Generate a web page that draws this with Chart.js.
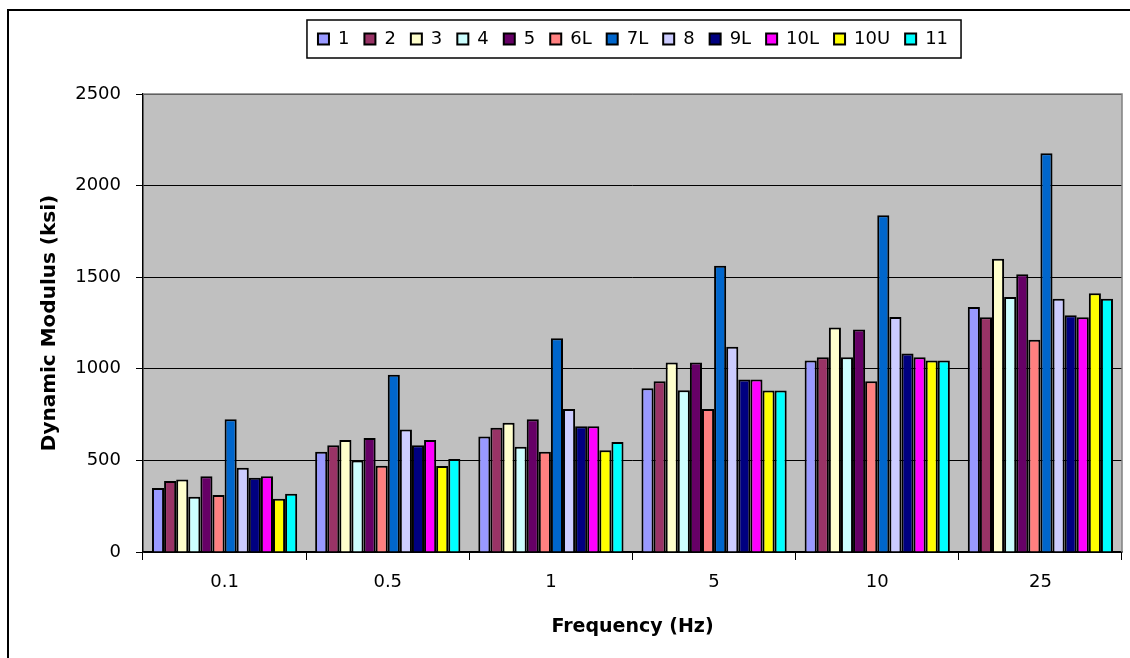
<!DOCTYPE html>
<html>
<head>
<meta charset="utf-8">
<title>Dynamic Modulus</title>
<script src="https://cdn.jsdelivr.net/npm/chart.js@4.4.1/dist/chart.umd.min.js"></script>
<style>
  body { margin: 0; background: #fff; }
  #wrap { width: 1130px; height: 658px; }
</style>
</head>
<body>
<div id="wrap"><canvas id="modChart" width="1130" height="658"></canvas></div>
<script>
// ===============================
// DATA
// ===============================
const frequencies = ["0.1", "0.5", "1", "5", "10", "25"];
const yTicks = [0, 500, 1000, 1500, 2000, 2500];

const mix1   = [349, 547, 631, 894, 1045, 1338];
const mix2   = [387, 583, 678, 932, 1063, 1281];
const mix3   = [396, 611, 705, 1034, 1225, 1601];
const mix4   = [302, 500, 574, 883, 1063, 1392];
const mix5   = [414, 622, 725, 1034, 1214, 1516];
const mix6L  = [311, 471, 547, 780, 932, 1158];
const mix7L  = [725, 968, 1167, 1563, 1838, 2176];
const mix8   = [460, 669, 780, 1120, 1283, 1383];
const mix9L  = [405, 583, 687, 942, 1083, 1292];
const mix10L = [414, 611, 687, 942, 1063, 1281];
const mix10U = [291, 469, 556, 882, 1045, 1412];
const mix11  = [318, 507, 601, 882, 1045, 1383];

const seriesNames = ["1", "2", "3", "4", "5", "6L", "7L", "8", "9L", "10L", "10U", "11"];
const seriesData = [mix1, mix2, mix3, mix4, mix5, mix6L, mix7L, mix8, mix9L, mix10L, mix10U, mix11];
const seriesColors = ["#9999FF", "#993366", "#FFFFCC", "#CCFFFF", "#660066", "#FF8080",
                      "#0066CC", "#CCCCFF", "#000080", "#FF00FF", "#FFFF00", "#00FFFF"];

const FONT = "'DejaVu Sans', 'Liberation Sans', Arial, sans-serif";

// ===============================
// PLUGINS (frame, plot background, legend box)
// ===============================
const framePlugin = {
  id: "frame",
  beforeInit(chart) {
    // make the legend taller so the plot starts lower
    const legend = chart.legend;
    const origFit = legend.fit;
    legend.fit = function () {
      origFit.call(this);
      this.height = 79;
    };
  },
  afterLayout(chart) {
    // centre legend a bit right of canvas centre, like the original
    const legend = chart.legend;
    const shift = 633 - (legend.left + legend.right) / 2;
    legend.left += shift;
    legend.right += shift;
  },
  beforeDraw(chart) {
    const ctx = chart.ctx;
    const a = chart.chartArea;
    ctx.save();
    ctx.fillStyle = "#fff";
    ctx.fillRect(0, 0, chart.width, chart.height);
    ctx.strokeStyle = "#000";
    ctx.lineWidth = 2;
    ctx.beginPath();
    ctx.moveTo(8, chart.height);
    ctx.lineTo(8, 10);
    ctx.lineTo(chart.width, 10);
    ctx.stroke();
    ctx.fillStyle = "#C0C0C0";
    ctx.fillRect(a.left, a.top, a.right - a.left, a.bottom - a.top);
    ctx.restore();
  },
  beforeDatasetsDraw(chart) {
    const ctx = chart.ctx;
    const a = chart.chartArea;
    ctx.save();
    ctx.strokeStyle = "#808080";
    ctx.lineWidth = 1.5;
    ctx.beginPath();
    ctx.moveTo(a.left, a.top);
    ctx.lineTo(a.right, a.top);
    ctx.lineTo(a.right, a.bottom);
    ctx.stroke();
    ctx.restore();
  },
  afterDraw(chart) {
    const boxes = chart.legend.legendHitBoxes;
    if (!boxes || !boxes.length) return;
    let l = Infinity, r = -Infinity, t = Infinity, b = -Infinity;
    boxes.forEach(h => {
      l = Math.min(l, h.left);
      r = Math.max(r, h.left + h.width);
      t = Math.min(t, h.top);
      b = Math.max(b, h.top + h.height);
    });
    const ctx = chart.ctx;
    ctx.save();
    ctx.strokeStyle = "#000";
    ctx.lineWidth = 1.5;
    ctx.strokeRect(l - 11, t - 10, (r - l) + 24, (b - t) + 20);
    ctx.restore();
  }
};

// ===============================
// CHART
// ===============================
const datasets = seriesNames.map((name, i) => ({
  label: name,
  data: seriesData[i],
  backgroundColor: seriesColors[i],
  borderColor: "#000",
  borderWidth: 2,
  categoryPercentage: 0.89,
  barPercentage: 1.0
}));

const ctx = document.getElementById("modChart").getContext("2d");
new Chart(ctx, {
  type: "bar",
  data: { labels: frequencies, datasets: datasets },
  plugins: [framePlugin],
  options: {
    responsive: false,
    animation: false,
    devicePixelRatio: 1,
    layout: { padding: { top: 15, left: 0, right: 8, bottom: 0 } },
    plugins: {
      tooltip: { enabled: false },
      legend: {
        position: "top",
        align: "center",
        labels: {
          boxWidth: 11,
          boxHeight: 11,
          padding: 15,
          color: "#000",
          font: { family: FONT, size: 18 }
        }
      }
    },
    scales: {
      x: {
        offset: true,
        afterFit: s => { s.height = 106; },
        grid: {
          offset: true,
          drawOnChartArea: false,
          drawTicks: true,
          tickLength: 8,
          color: "#000"
        },
        border: { color: "#000", width: 1.5 },
        ticks: {
          color: "#000",
          padding: 12,
          maxRotation: 0,
          font: { family: FONT, size: 18 }
        },
        title: {
          display: true,
          text: "Frequency (Hz)",
          color: "#000",
          padding: { top: 0, bottom: 20 },
          font: { family: FONT, size: 19, weight: "bold" }
        }
      },
      y: {
        min: 0,
        max: 2500,
        afterFit: s => { s.width = 143; },
        afterBuildTicks: s => { s.ticks = yTicks.map(v => ({ value: v })); },
        grid: {
          color: "#000",
          lineWidth: 1,
          tickLength: 7
        },
        border: { color: "#000", width: 1.5 },
        ticks: {
          color: "#000",
          padding: 15,
          callback: v => String(v),
          font: { family: FONT, size: 18 }
        },
        title: {
          display: true,
          text: "Dynamic Modulus (ksi)",
          color: "#000",
          padding: { top: 38, bottom: 0 },
          font: { family: FONT, size: 20, weight: "bold" }
        }
      }
    }
  }
});
</script>
</body>
</html>
